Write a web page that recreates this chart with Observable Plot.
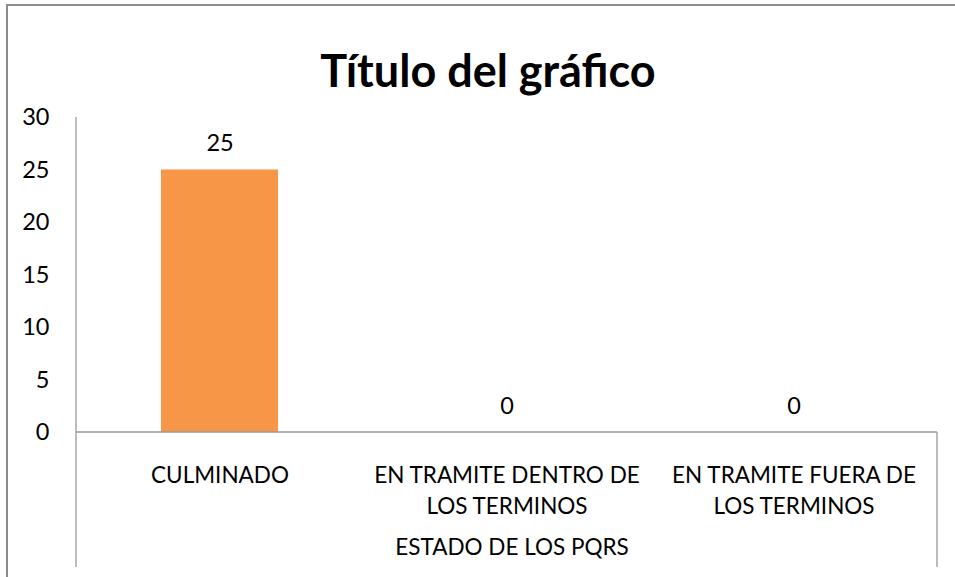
<!DOCTYPE html>
<html>
<head>
<meta charset="utf-8">
<script src="https://cdn.jsdelivr.net/npm/d3@7"></script>
<script src="https://cdn.jsdelivr.net/npm/@observablehq/plot@0.6"></script>
<style>
  html, body { margin: 0; padding: 0; background: #fff; }
  #wrap { position: relative; width: 955px; height: 577px; overflow: hidden; }
  #border { position: absolute; left: 6px; top: 4px; width: 1000px; height: 700px;
            border-left: 2px solid #8c8c8c; border-top: 2px solid #8c8c8c; box-sizing: border-box; }
  #chart { position: absolute; left: 0; top: 0; }
</style>
</head>
<body>
<div id="wrap"><div id="border"></div><div id="chart"></div></div>
<script>
const title = "Título del gráfico";
const axisTitle = "ESTADO DE LOS PQRS";
const categories = ["CULMINADO", "EN TRAMITE DENTRO DE LOS TERMINOS", "EN TRAMITE FUERA DE LOS TERMINOS"];
const categoryLabels = ["CULMINADO", "EN TRAMITE DENTRO DE\nLOS TERMINOS", "EN TRAMITE FUERA DE\nLOS TERMINOS"];
const values = [25, 0, 0];
const yTicks = [0, 5, 10, 15, 20, 25, 30];

const data = categories.map((c, i) => ({category: c, label: categoryLabels[i], value: values[i]}));
const FONT = "Lato, 'Open Sans', sans-serif";
const AXIS = "#999999";
const FS = 22.5;

function axisLines(index, scales, values, dims) {
  const g = d3.create("svg:g").attr("stroke", AXIS).attr("stroke-width", 1.3).attr("fill", "none");
  const left = dims.marginLeft, right = dims.width - dims.marginRight;
  const top = scales.y(yTicks[yTicks.length - 1]), base = scales.y(0);
  const bottom = dims.height - 10;
  g.append("line").attr("x1", left).attr("x2", left).attr("y1", top).attr("y2", bottom);
  g.append("line").attr("x1", right).attr("x2", right).attr("y1", base).attr("y2", bottom);
  g.append("line").attr("x1", left).attr("x2", right).attr("y1", base).attr("y2", base);
  return g.node();
}

const chart = Plot.plot({
  width: 955,
  height: 577,
  marginLeft: 76,
  marginRight: 18,
  marginTop: 117,
  marginBottom: 145,
  style: {fontFamily: FONT, background: "transparent", color: "#000"},
  x: {domain: categories, paddingInner: 0.592, paddingOuter: 0.296, axis: null},
  y: {domain: [0, 30], axis: null},
  marks: [
    Plot.barY(data, {x: "category", y: "value", fill: "#F79646"}),
    axisLines,
    Plot.axisY(yTicks, {tickSize: 0, tickPadding: 27, fontSize: 23.5, fill: "#000", label: null}),
    Plot.text(data, {x: "category", y: "value", text: d => String(d.value), dy: -26.5, fontSize: 23.5, fill: "#000"}),
    Plot.text(data, {x: "category", text: "label", frameAnchor: "bottom", lineAnchor: "top", dy: 28, lineHeight: 1.38, fontSize: FS, fill: "#000"}),
    Plot.text([axisTitle], {text: d => d, frameAnchor: "bottom", dy: 122, dx: 5, fontSize: FS, fill: "#000"}),
    Plot.text([title], {text: d => d, frameAnchor: "top", dy: -62, dx: -19, fontSize: 45, fontWeight: "bold", fill: "#000"})
  ]
});
document.getElementById("chart").appendChild(chart);
</script>
</body>
</html>
